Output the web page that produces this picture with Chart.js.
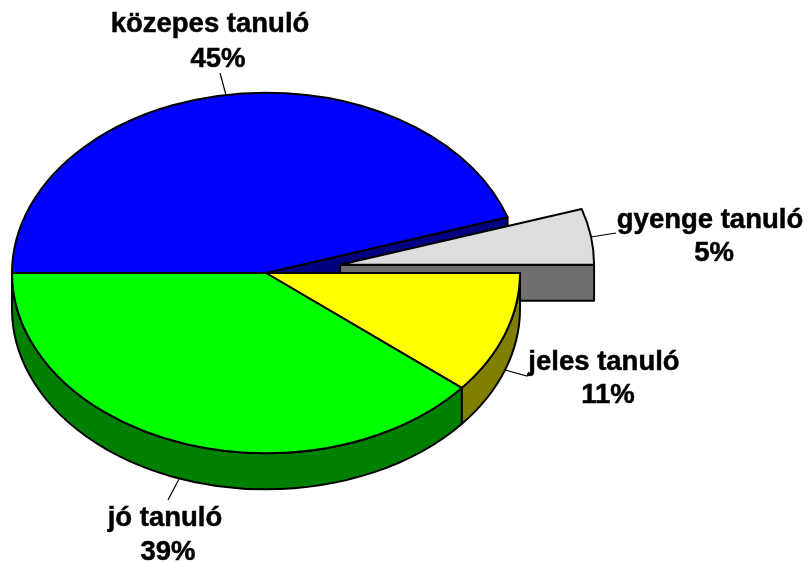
<!DOCTYPE html>
<html>
<head>
<meta charset="utf-8">
<style>html,body{margin:0;padding:0;background:#fff}canvas{display:block}</style>
<script src="https://cdn.jsdelivr.net/npm/chart.js@4"></script>
</head>
<body>
<canvas id="c" width="809" height="562"></canvas>
<script>
const categories = ['közepes tanuló', 'gyenge tanuló', 'jeles tanuló', 'jó tanuló'];
const values = [45, 5, 11, 39];
const topColors = ['#0000FF', '#DDDDDD', '#FFFF00', '#00FF00'];
const sideColors = ['#000080', '#6F6F6F', '#808000', '#008000'];
const explode = [0, 300, 0, 0];

// annotation layout: [name x, name baseline, percent x, percent baseline]
const labelLayout = [
  [210, 32, 218, 67],
  [710, 228, 714, 261],
  [604, 370, 608, 403],
  [165, 526, 168, 560]
];
// leader lines: [x1, y1, x2, y2, ...]
const leaders = [
  [220, 73, 226, 95],
  [591, 237, 616, 233],
  [505, 370, 527, 376, 529, 372],
  [179, 479, 168, 500]
];

const squash = 0.71;
const depth = 36;

const pie3d = {
  id: 'pie3d',
  beforeDatasetsDraw(chart) {
    const ctx = chart.ctx;
    const arcs = chart.getDatasetMeta(0).data;
    ctx.save();
    ctx.lineJoin = 'round';
    ctx.lineWidth = 2;
    ctx.strokeStyle = '#000';
    arcs.forEach((arc, i) => {
      const p = arc.getProps(['x', 'y', 'startAngle', 'endAngle', 'outerRadius']);
      const off = (arc.options.offset || 0) / 4;
      const mid = (p.startAngle + p.endAngle) / 2;
      const cx = p.x + Math.cos(mid) * off;
      const cy = p.y + Math.sin(mid) * off * squash;
      const r = p.outerRadius, ry = r * squash;
      const a0 = p.startAngle, a1 = p.endAngle;
      const face = a => {
        const ex = cx + Math.cos(a) * r, ey = cy + Math.sin(a) * ry;
        ctx.beginPath();
        ctx.moveTo(cx, cy);
        ctx.lineTo(ex, ey);
        ctx.lineTo(ex, ey + depth);
        ctx.lineTo(cx, cy + depth);
        ctx.closePath();
        ctx.fillStyle = sideColors[i];
        ctx.fill();
        ctx.stroke();
      };
      if (Math.cos(a0) < -1e-6) face(a0);
      if (Math.cos(a1) > 1e-6) face(a1);
      // outer wall, front half only
      const norm = a => { const t = Math.PI * 2; return ((a % t) + t) % t; };
      let s = norm(a0), e = s + (a1 - a0);
      [[s, e], [s - Math.PI * 2, e - Math.PI * 2]].forEach(([u, v]) => {
        const w0 = Math.max(u, 0), w1 = Math.min(v, Math.PI);
        if (w1 - w0 > 1e-4) {
          ctx.beginPath();
          ctx.ellipse(cx, cy, r, ry, 0, w0, w1);
          ctx.ellipse(cx, cy + depth, r, ry, 0, w1, w0, true);
          ctx.closePath();
          ctx.fillStyle = sideColors[i];
          ctx.fill();
          ctx.stroke();
        }
      });
      // top
      ctx.beginPath();
      ctx.moveTo(cx, cy);
      ctx.ellipse(cx, cy, r, ry, 0, a0, a1);
      ctx.closePath();
      ctx.fillStyle = arc.options.backgroundColor;
      ctx.fill();
      ctx.stroke();
    });
    ctx.restore();
    return false;
  },
  afterDraw(chart) {
    const ctx = chart.ctx;
    ctx.save();
    ctx.strokeStyle = '#000';
    ctx.lineWidth = 1.2;
    leaders.forEach(l => {
      ctx.beginPath();
      ctx.moveTo(l[0], l[1]);
      for (let k = 2; k < l.length; k += 2) ctx.lineTo(l[k], l[k + 1]);
      ctx.stroke();
    });
    ctx.fillStyle = '#000';
    ctx.lineWidth = 0.5;
    ctx.font = 'bold 27.5px "Liberation Sans", Arial, sans-serif';
    ctx.textAlign = 'center';
    ctx.textBaseline = 'alphabetic';
    categories.forEach((name, i) => {
      const t = labelLayout[i];
      ctx.fillText(name, t[0], t[1]);
      ctx.strokeText(name, t[0], t[1]);
      ctx.fillText(values[i] + '%', t[2], t[3]);
      ctx.strokeText(values[i] + '%', t[2], t[3]);
    });
    ctx.restore();
  }
};

new Chart(document.getElementById('c'), {
  type: 'pie',
  data: {
    labels: categories,
    datasets: [{
      data: values,
      backgroundColor: topColors,
      borderColor: '#000',
      borderWidth: 0,
      offset: explode,
      radius: 254
    }]
  },
  options: {
    responsive: false,
    animation: false,
    rotation: 270,
    layout: { padding: { left: 0, top: 0, right: 277, bottom: 16 } },
    events: [],
    plugins: { legend: { display: false }, tooltip: { enabled: false } }
  },
  plugins: [pie3d]
});
</script>
</body>
</html>
